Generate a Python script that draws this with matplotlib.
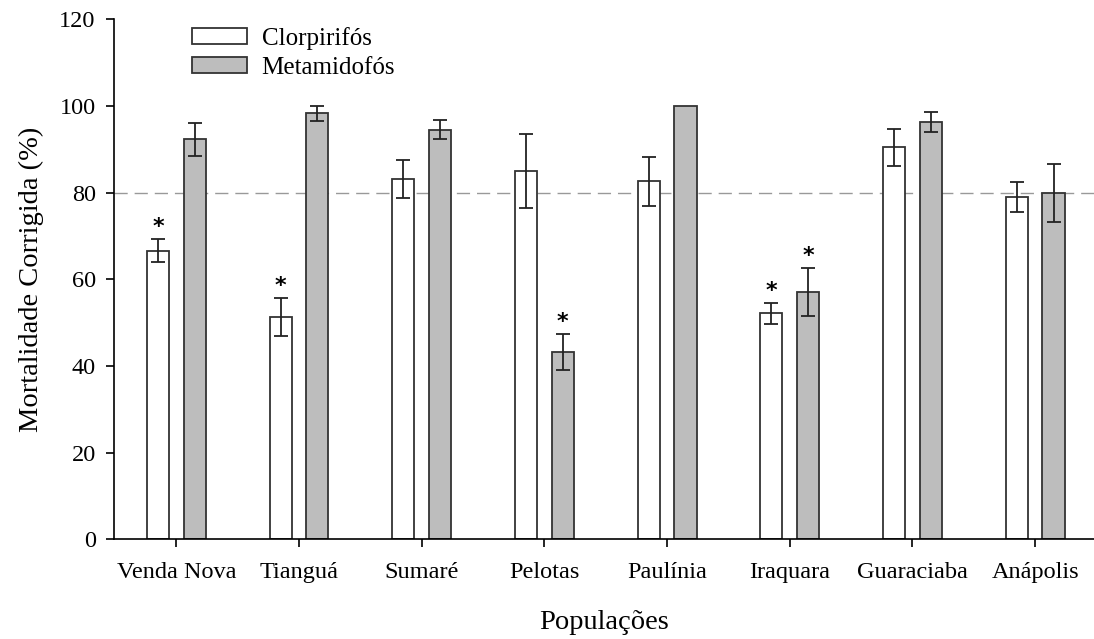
import numpy as np
from matplotlib import pyplot as plt

# data
populations = ['Venda Nova', 'Tianguá', 'Sumaré', 'Pelotas', 'Paulínia',
               'Iraquara', 'Guaraciaba', 'Anápolis']
clorpirifos = [66.6, 51.2, 83.1, 85.0, 82.6, 52.1, 90.4, 78.9]
clorpirifos_err = [2.7, 4.4, 4.4, 8.5, 5.6, 2.4, 4.2, 3.5]
metamidofos = [92.3, 98.3, 94.5, 43.2, 100.0, 57.1, 96.2, 79.9]
metamidofos_err = [3.8, 1.7, 2.2, 4.2, 0.0, 5.6, 2.3, 6.7]
# significant differences (asterisks)
star_clor = [True, True, False, False, False, True, False, False]
star_meta = [False, False, False, True, False, True, False, False]

plt.rcParams['font.family'] = ['Liberation Serif', 'DejaVu Serif']

fig = plt.figure(figsize=(10.94, 6.39), dpi=100)
ax = fig.add_axes([0.104, 0.156, 0.896, 0.814])

x = np.arange(len(populations))
w = 0.18
off = 0.15
edge = '#333333'

ax.axhline(80, color='#999999', lw=1, linestyle=(0, (9.5, 5)), zorder=1)

ax.bar(x - off, clorpirifos, w, color='white', edgecolor=edge, lw=1.3,
       label='Clorpirifós', zorder=2)
ax.bar(x + off, metamidofos, w, color='#bdbdbd', edgecolor=edge, lw=1.3,
       label='Metamidofós', zorder=2)

ax.errorbar(x - off, clorpirifos, yerr=clorpirifos_err, fmt='none',
            ecolor='#222222', elinewidth=1.3, capsize=5.3, capthick=1.3, zorder=3)
err_m = np.array(metamidofos_err)
xm = (x + off)[err_m > 0]
ax.errorbar(xm, np.array(metamidofos)[err_m > 0], yerr=err_m[err_m > 0], fmt='none',
            ecolor='#222222', elinewidth=1.3, capsize=5.3, capthick=1.3, zorder=3)

# asterisks above error caps
for i in range(len(populations)):
    if star_clor[i]:
        ax.text(x[i] - off, clorpirifos[i] + clorpirifos_err[i] + 3.2, '*',
                ha='center', va='center_baseline', fontsize=16, fontweight='bold',
                family='DejaVu Sans')
    if star_meta[i]:
        ax.text(x[i] + off, metamidofos[i] + metamidofos_err[i] + 3.2, '*',
                ha='center', va='center_baseline', fontsize=16, fontweight='bold',
                family='DejaVu Sans')

ax.set_xlim(-0.51, 7.48)
ax.set_ylim(0, 120)
ax.set_yticks(range(0, 121, 20))
ax.set_xticks(x)
ax.set_xticklabels(populations)
ax.tick_params(axis='both', direction='out', length=6, width=1.2, labelsize=17.5)
ax.tick_params(axis='y', pad=7)
ax.tick_params(axis='x', pad=10)
ax.spines['top'].set_visible(False)
ax.spines['right'].set_visible(False)
ax.spines['left'].set_linewidth(1.2)
ax.spines['bottom'].set_linewidth(1.2)

ax.set_xlabel('Populações', fontsize=20.5, labelpad=20)
ax.set_ylabel('Mortalidade Corrigida (%)', fontsize=20.5, labelpad=11)

ax.legend(loc='upper left', bbox_to_anchor=(0.08, 0.985), frameon=False,
          borderpad=0, borderaxespad=0,
          fontsize=18, handlelength=2.2, handleheight=0.6, labelspacing=0.28,
          handletextpad=0.58)

plt.savefig('out.png', dpi=100)
